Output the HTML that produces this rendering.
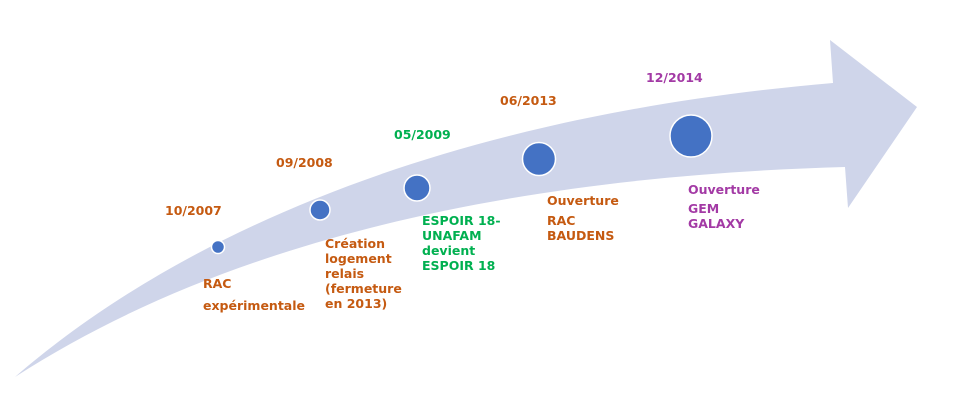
<!DOCTYPE html>
<html><head><meta charset="utf-8"><style>
html,body{margin:0;padding:0;background:#fff;}
svg{display:block}
text{font-family:"DejaVu Sans","Liberation Sans",sans-serif;font-weight:bold;font-size:12.5px}
.o{fill:#C55A11}.g{fill:#00B050}.p{fill:#A33AA5}
</style></head><body>
<svg width="959" height="413" viewBox="0 0 959 413">
<path d="M15,377 C150,260 400,120 833,83 L830,40 L917,107 L848,208 L845,167 C560,175 250,225 15,377 Z" fill="#CFD5EA"/>
<g fill="#4472C4" stroke="#fff" stroke-width="1.5">
<circle cx="218" cy="247" r="6.5"/>
<circle cx="320" cy="210" r="10"/>
<circle cx="417" cy="188" r="13"/>
<circle cx="539" cy="159" r="16.5"/>
<circle cx="691" cy="136" r="21"/>
</g>
<text class="o" x="165" y="215">10/2007</text>
<text class="o" x="276" y="167">09/2008</text>
<text class="g" x="394" y="139">05/2009</text>
<text class="o" x="500" y="105">06/2013</text>
<text class="p" x="646" y="82">12/2014</text>
<text class="o" x="203" y="288">RAC</text>
<text class="o" x="203" y="310">expérimentale</text>
<text class="o" x="325" y="248">Création</text>
<text class="o" x="325" y="263">logement</text>
<text class="o" x="325" y="278">relais</text>
<text class="o" x="325" y="293">(fermeture</text>
<text class="o" x="325" y="308">en 2013)</text>
<text class="g" x="422" y="225">ESPOIR 18-</text>
<text class="g" x="422" y="240">UNAFAM</text>
<text class="g" x="422" y="255">devient</text>
<text class="g" x="422" y="270">ESPOIR 18</text>
<text class="o" x="547" y="205">Ouverture</text>
<text class="o" x="547" y="225">RAC</text>
<text class="o" x="547" y="240">BAUDENS</text>
<text class="p" x="688" y="194">Ouverture</text>
<text class="p" x="688" y="213">GEM</text>
<text class="p" x="688" y="228">GALAXY</text>
</svg>
</body></html>
